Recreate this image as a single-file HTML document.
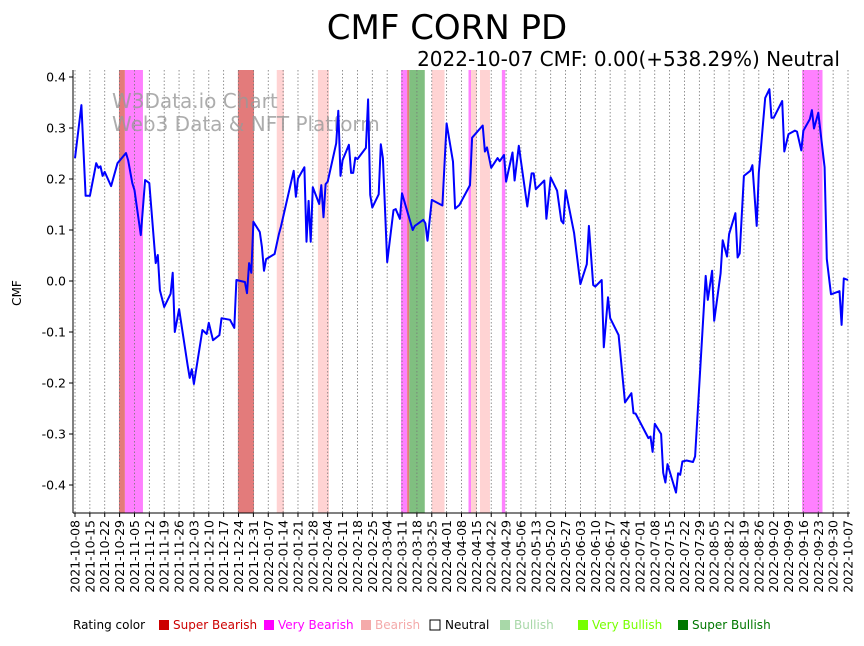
<!DOCTYPE html>
<html><head><meta charset="utf-8"><style>
body{margin:0;background:#fff;width:864px;height:641px;overflow:hidden}
svg{font-family:"DejaVu Sans","Liberation Sans",sans-serif}
</style></head><body>
<svg id="chart" width="864" height="641" viewBox="0 0 864 641" xmlns="http://www.w3.org/2000/svg">
<text x="447" y="39" font-size="34" text-anchor="middle">CMF CORN PD</text>
<text x="840" y="66" font-size="20" text-anchor="end">2022-10-07 CMF: 0.00(+538.29%) Neutral</text>
<g id="bands"></g>
<g id="grid"></g>
<text x="112" y="108" font-size="20" fill="#999" fill-opacity="0.8">W3Data.io Chart</text>
<text x="112" y="131" font-size="20" fill="#999" fill-opacity="0.8">Web3 Data &amp; NFT Platform</text>
<path id="line" fill="none" stroke="#0000ff" stroke-width="2" stroke-linejoin="round"/>
<g id="yaxis"></g>
<g id="xaxis"></g>
<text transform="translate(21,293) rotate(-90)" font-size="12" text-anchor="middle">CMF</text>
<g font-size="12">
<text x="73" y="629">Rating color</text>
<rect x="159" y="620" width="10" height="10" fill="#cc0000"/><text x="173" y="629" fill="#cc0000">Super Bearish</text>
<rect x="264" y="620" width="10" height="10" fill="#ff00ff"/><text x="278" y="629" fill="#ff00ff">Very Bearish</text>
<rect x="361" y="620" width="10" height="10" fill="#f4aaaa"/><text x="375" y="629" fill="#f4aaaa">Bearish</text>
<rect x="430" y="620" width="10" height="10" fill="#fff" stroke="#000"/><text x="445" y="629">Neutral</text>
<rect x="500" y="620" width="10" height="10" fill="#a8d8a8"/><text x="514" y="629" fill="#a8d8a8">Bullish</text>
<rect x="578" y="620" width="10" height="10" fill="#77ff00"/><text x="592" y="629" fill="#77ff00">Very Bullish</text>
<rect x="678" y="620" width="10" height="10" fill="#007700"/><text x="692" y="629" fill="#007700">Super Bullish</text>
</g>
</svg>
<script>
const days=[0,3,5,7,10,11,12,13,14,17,20,24,25,27,28,31,33,35,38,39,40,42,45,46,47,49,53,54,55,56,60,62,63,65,68,69,73,75,76,80,81,82,83,84,87,88,89,90,94,96,97,103,104,105,108,109,110,111,112,115,116,117,118,119,123,124,125,126,129,130,131,132,133,137,138,139,140,143,144,145,147,150,151,153,154,159,160,164,165,166,168,173,175,178,179,181,186,187,192,193,194,196,199,200,202,203,206,207,209,213,215,216,217,221,222,224,227,229,230,231,235,238,241,242,244,245,248,249,251,252,256,259,262,263,264,270,271,272,273,276,277,278,279,283,284,285,286,288,291,292,297,298,300,301,304,305,307,308,311,312,313,315,318,319,321,322,325,327,328,329,333,334,336,339,340,342,343,346,347,348,350,353,354,356,360,361,362,364];
const cmf=[0.241,0.345,0.167,0.167,0.231,0.222,0.225,0.206,0.214,0.186,0.231,0.251,0.237,0.192,0.178,0.090,0.198,0.192,0.035,0.051,-0.018,-0.051,-0.025,0.016,-0.100,-0.055,-0.165,-0.190,-0.173,-0.202,-0.096,-0.104,-0.082,-0.116,-0.106,-0.073,-0.076,-0.092,0.002,-0.002,-0.024,0.035,0.016,0.116,0.096,0.067,0.020,0.043,0.053,0.092,0.107,0.216,0.165,0.201,0.223,0.077,0.157,0.077,0.184,0.151,0.188,0.125,0.190,0.195,0.270,0.334,0.206,0.237,0.267,0.212,0.212,0.242,0.239,0.261,0.356,0.169,0.144,0.170,0.268,0.241,0.037,0.139,0.141,0.122,0.172,0.100,0.108,0.120,0.113,0.079,0.159,0.148,0.309,0.234,0.142,0.149,0.188,0.281,0.305,0.254,0.262,0.222,0.241,0.235,0.247,0.195,0.252,0.197,0.265,0.146,0.211,0.211,0.180,0.197,0.122,0.203,0.177,0.118,0.113,0.178,0.094,-0.006,0.033,0.108,-0.008,-0.011,0.002,-0.130,-0.032,-0.073,-0.106,-0.238,-0.220,-0.259,-0.260,-0.308,-0.305,-0.335,-0.280,-0.300,-0.376,-0.395,-0.359,-0.415,-0.377,-0.380,-0.354,-0.352,-0.355,-0.344,0.010,-0.037,0.020,-0.078,0.015,0.080,0.048,0.092,0.133,0.046,0.054,0.206,0.216,0.227,0.108,0.212,0.359,0.376,0.320,0.320,0.353,0.254,0.288,0.295,0.293,0.256,0.295,0.317,0.335,0.299,0.330,0.223,0.043,-0.026,-0.020,-0.086,0.005,0.002];
const bandStart=[20.7,23.5,76.7,95,114.4,153.5,156.4,157.4,168,185.3,186.5,190.7,201,342.4];
const bandEnd=[23.5,32,84.3,98.4,119.6,156.4,157.4,164.7,174,186.5,189.2,195.4,202.6,352];
const bandType=["sb","vb","sb","b","b","vb","sb","sbu","b","vb","b","b","vb","vb"];
const yTicks=[-0.4,-0.3,-0.2,-0.1,0.0,0.1,0.2,0.3,0.4];
const startDate="2021-10-08";
const bandColor={sb:"#e37b7b",vb:"#ff80ff",b:"#ffd3d3",sbu:"#80bf80"};
const X0=75,X1=848,D1=364,Y0=281,YS=510,TOP=70,BOT=513;
const sx=d=>X0+(X1-X0)*d/D1, sy=v=>Y0-v*YS;
const NS="http://www.w3.org/2000/svg";
function mk(t,a,p){const e=document.createElementNS(NS,t);for(const k in a)e.setAttribute(k,a[k]);p.appendChild(e);return e;}
const bands=document.getElementById('bands');
bandStart.forEach((s,i)=>{const r=mk('rect',{x:sx(s),y:TOP,width:sx(bandEnd[i])-sx(s),height:BOT-TOP,fill:bandColor[bandType[i]]},bands);

});
const grid=document.getElementById('grid'),xa=document.getElementById('xaxis'),ya=document.getElementById('yaxis');
mk('line',{x1:73,y1:TOP,x2:73,y2:BOT,stroke:'#000','stroke-width':1},ya);
mk('line',{x1:73,y1:BOT,x2:850,y2:BOT,stroke:'#000','stroke-width':1},xa);
const base=new Date(startDate+"T00:00:00Z");
for(let d=0;d<=D1;d+=7){const x=sx(d);
mk('line',{x1:x,y1:TOP,x2:x,y2:BOT,stroke:'#777','stroke-width':0.8,'stroke-dasharray':'1.5,2'},grid);
mk('line',{x1:x,y1:BOT,x2:x,y2:BOT+4,stroke:'#000'},xa);
const dt=new Date(base.getTime()+d*86400000).toISOString().slice(0,10);
const t=mk('text',{transform:`translate(${x+4.5},${BOT+7}) rotate(-90)`,'font-size':12.5,'text-anchor':'end'},xa);t.textContent=dt;

}
yTicks.forEach(v=>{const y=sy(v);
mk('line',{x1:69,y1:y,x2:73,y2:y,stroke:'#000'},ya);
const t=mk('text',{x:66,y:y+4.5,'font-size':12.5,'text-anchor':'end'},ya);t.textContent=v.toFixed(1);

});
document.getElementById('line').setAttribute('d',days.map((d,i)=>(i?'L':'M')+sx(d).toFixed(1)+','+sy(cmf[i]).toFixed(1)).join(''));
</script>
</body></html>
